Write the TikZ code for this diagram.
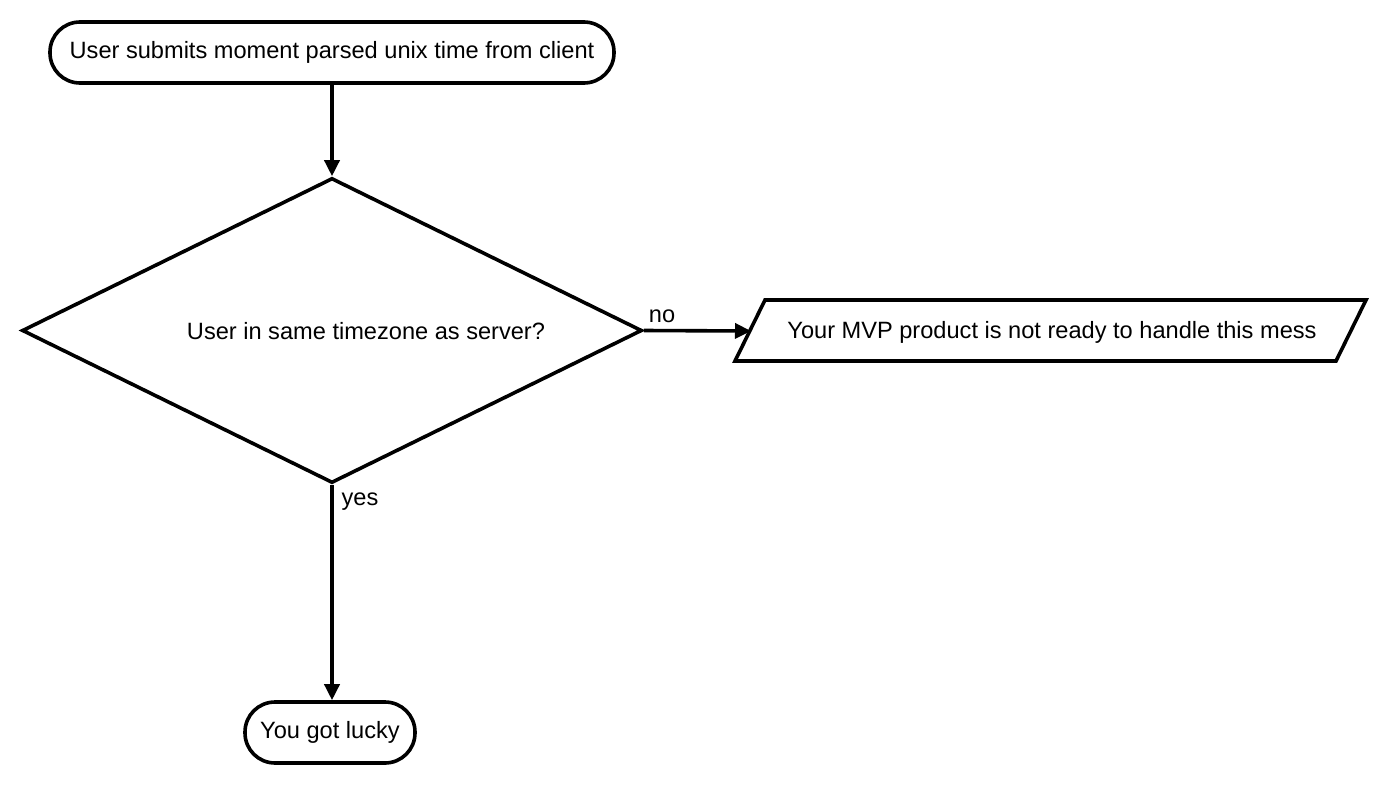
\documentclass[tikz,border=0pt]{standalone}
\usepackage{fontspec}
\setmainfont{Liberation Sans}
\usetikzlibrary{shapes.geometric,arrows.meta}
\tikzset{
  lw/.style={line width=3.6pt},
  term/.style={draw,lw,rounded corners=30pt,minimum height=61pt,inner sep=0pt,align=center},
  decision/.style={draw,lw,diamond,inner sep=0pt,minimum width=620pt,minimum height=305pt},
  conn/.style={lw,-{Triangle[length=16pt,width=15pt]}},
  lbl/.style={inner sep=0pt},
}
\begin{document}
\begin{tikzpicture}[x=1pt,y=-1pt,font=\fontsize{23.6}{28}\selectfont]
\useasboundingbox (0,0) rectangle (1400,790);
\node[term,minimum width=564pt] (start) at (332,52.5) {User submits moment parsed unix time from client};
\node[decision] (dec) at (332,330.5) {};
\node[lbl] (dectext) at (366,331.5) {User in same timezone as server?};
\node[lbl] (out) at (1052,332) {Your MVP product is not ready to handle this mess};
\draw[lw,line join=miter] (735,361) -- (765,300) -- (1366,300) -- (1336,361) -- cycle;
\coordinate (outin) at (751,331);
\node[term,minimum width=170pt] (lucky) at (330,732.5) {You got lucky};
\draw[conn] (start.south) -- (dec.north);
\draw[conn] (dec.east) -- (outin);
\draw[conn] (dec.south) -- (dec.south |- lucky.north);
\node[lbl] (no) at (662,316) {no};
\node[lbl] (yes) at (360,502) {yes};
\end{tikzpicture}
\end{document}
